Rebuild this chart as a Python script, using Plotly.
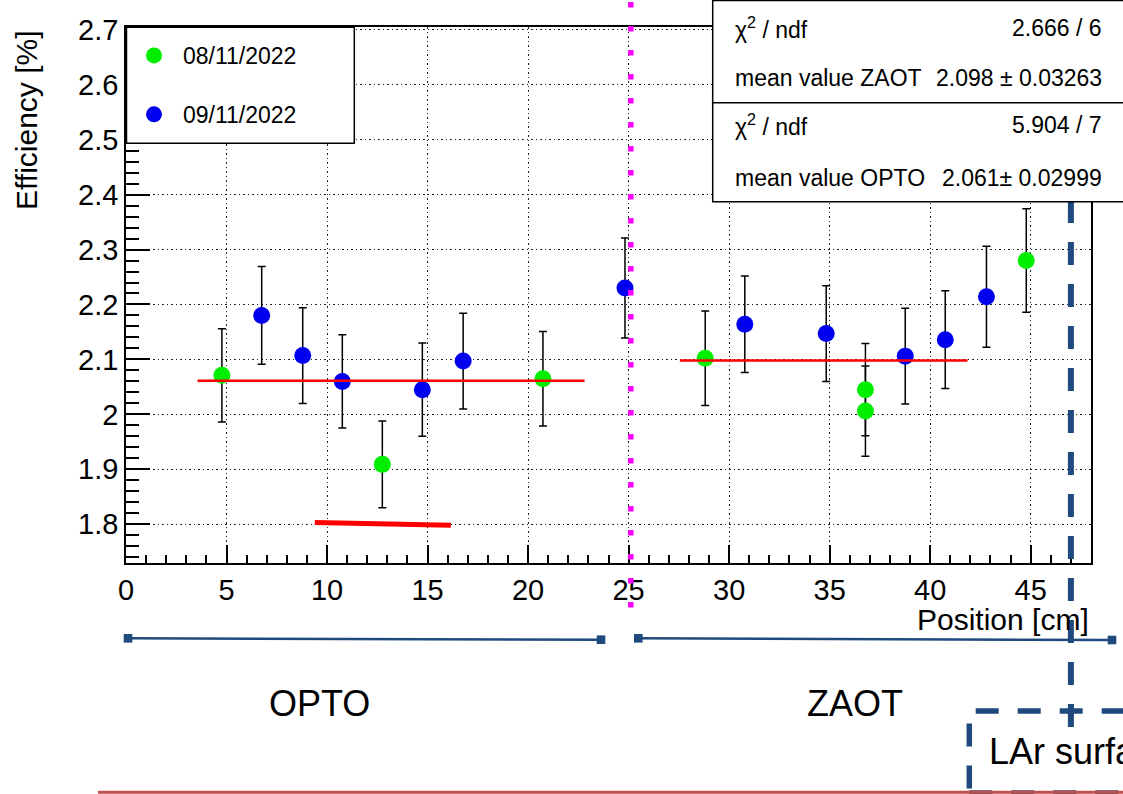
import plotly.graph_objects as go

# ---------------- data ----------------
green_label = "08/11/2022"
green_x = [4.77, 12.75, 20.74, 28.81, 36.78, 36.78, 44.78]
green_y = [2.071, 1.909, 2.065, 2.102, 2.045, 2.006, 2.280]
green_err = [0.085, 0.079, 0.086, 0.086, 0.084, 0.082, 0.094]

blue_label = "09/11/2022"
blue_x = [6.75, 8.79, 10.76, 14.74, 16.77, 24.82, 30.78, 34.83, 38.76, 40.75, 42.80]
blue_y = [2.180, 2.107, 2.060, 2.045, 2.097, 2.230, 2.164, 2.147, 2.106, 2.136, 2.214]
blue_err = [0.089, 0.087, 0.085, 0.085, 0.087, 0.091, 0.088, 0.087, 0.087, 0.089, 0.092]

opto_fit_x = [3.56, 22.81]
opto_mean = 2.061
zaot_fit_x = [27.55, 41.86]
zaot_mean = 2.098

strike_x = [9.39, 16.16]
strike_y = [1.803, 1.798]

separator_x = 25.11      # magenta dotted line
lar_x = 47.0             # LAr surface dashed line

x_range = [0, 48]
y_range = [1.7295, 2.705]
y_tickvals = [1.8, 1.9, 2.0, 2.1, 2.2, 2.3, 2.4, 2.5, 2.6, 2.7]
y_ticktext = ["1.8", "1.9", "2", "2.1", "2.2", "2.3", "2.4", "2.5", "2.6", "2.7"]
x_tickvals = [0, 5, 10, 15, 20, 25, 30, 35, 40, 45]
x_ticktext = ["0", "5", "10", "15", "20", "25", "30", "35", "40", "45"]

stat_rows = [
    ("χ<sup>2</sup> / ndf", "2.666 / 6"),
    ("mean value ZAOT", "2.098 ± 0.03263"),
    ("χ<sup>2</sup> / ndf", "5.904 / 7"),
    ("mean value OPTO", "2.061± 0.02999"),
]

# ---------------- geometry helpers (layout only) ----------------
W, H = 1123, 794
L, R, T, B = 126, 1091, 27, 563


def pxx(px):
    return (px - L) / (R - L)


def pxy(py):
    return (B - py) / (B - T)


def dx(x):
    return (x - x_range[0]) / (x_range[1] - x_range[0])


FONT = "Liberation Sans, Arial, Helvetica, sans-serif"
DARKBLUE = "#1f4a7d"

fig = go.Figure()

fig.add_trace(go.Scatter(
    x=green_x, y=green_y, mode="markers", name=green_label, legendgroup="g",
    marker=dict(color="#00ee00", size=17),
    error_y=dict(type="data", array=green_err, color="black", thickness=1.5, width=4),
))
fig.add_trace(go.Scatter(
    x=blue_x, y=blue_y, mode="markers", name=blue_label, legendgroup="b",
    marker=dict(color="#0000ee", size=17),
    error_y=dict(type="data", array=blue_err, color="black", thickness=1.5, width=4),
))
fig.add_trace(go.Scatter(
    x=opto_fit_x, y=[opto_mean, opto_mean], mode="lines", showlegend=False,
    line=dict(color="red", width=2.5),
))
fig.add_trace(go.Scatter(
    x=zaot_fit_x, y=[zaot_mean, zaot_mean], mode="lines", showlegend=False,
    line=dict(color="red", width=2.5),
))
fig.add_trace(go.Scatter(
    x=strike_x, y=strike_y, mode="lines", showlegend=False,
    line=dict(color="red", width=5),
))

shapes = []
# magenta dotted separator
shapes.append(dict(type="line", xref="paper", yref="paper",
                   x0=dx(separator_x), x1=dx(separator_x), y0=pxy(607.5), y1=pxy(2),
                   line=dict(color="#ff00ff", width=5.5, dash="5.5px,18.5px"), layer="above"))
# LAr surface dashed vertical line
shapes.append(dict(type="line", xref="paper", yref="paper",
                   x0=dx(lar_x), x1=dx(lar_x), y0=pxy(727), y1=pxy(198.5),
                   line=dict(color=DARKBLUE, width=6, dash="23px,19px"), layer="above"))
# legend box
shapes.append(dict(type="rect", xref="paper", yref="paper",
                   x0=pxx(126.5), x1=pxx(354.3), y0=pxy(143.3), y1=pxy(27.3),
                   line=dict(color="black", width=1.5), fillcolor="white", layer="above"))
# stat boxes
shapes.append(dict(type="rect", xref="paper", yref="paper",
                   x0=pxx(712.7), x1=pxx(1140), y0=pxy(102.7), y1=pxy(0.5),
                   line=dict(color="black", width=1.5), fillcolor="white", layer="above"))
shapes.append(dict(type="rect", xref="paper", yref="paper",
                   x0=pxx(712.7), x1=pxx(1140), y0=pxy(201.7), y1=pxy(102.7),
                   line=dict(color="black", width=1.5), fillcolor="white", layer="above"))
# region brackets
for (x0, y0, x1, y1) in [(128, 638.3, 601, 639.7), (638.3, 638.3, 1112, 640)]:
    shapes.append(dict(type="line", xref="paper", yref="paper",
                       x0=pxx(x0), x1=pxx(x1), y0=pxy(y0), y1=pxy(y1),
                       line=dict(color=DARKBLUE, width=2.5), layer="above"))
    for (cx, cy) in [(x0, y0), (x1, y1)]:
        shapes.append(dict(type="rect", xref="paper", yref="paper",
                           x0=pxx(cx - 4.3), x1=pxx(cx + 4.3), y0=pxy(cy + 4.3), y1=pxy(cy - 4.3),
                           line=dict(width=0), fillcolor=DARKBLUE, layer="above"))
# LAr surface dashed box
shapes.append(dict(type="rect", xref="paper", yref="paper",
                   x0=pxx(969.3), x1=pxx(1300), y0=pxy(793), y1=pxy(711),
                   line=dict(color=DARKBLUE, width=5.5, dash="23px,19px"), layer="above"))
# slide bottom red line
shapes.append(dict(type="line", xref="paper", yref="paper",
                   x0=pxx(98), x1=pxx(1130), y0=pxy(792.3), y1=pxy(792.3),
                   line=dict(color="#c0504d", width=3), layer="above"))

annotations = []
stat_y = [28, 78, 125, 178]
for (lbl, val), yy in zip(stat_rows, stat_y):
    annotations.append(dict(xref="paper", yref="paper", x=pxx(733), y=pxy(yy),
                            xanchor="left", yanchor="middle", text=lbl, showarrow=False,
                            font=dict(family=FONT, size=23, color="black")))
    annotations.append(dict(xref="paper", yref="paper", x=pxx(1104), y=pxy(yy),
                            xanchor="right", yanchor="middle", text=val, showarrow=False,
                            font=dict(family=FONT, size=23, color="black")))
annotations.append(dict(xref="paper", yref="paper", x=pxx(1091), y=pxy(619),
                        xanchor="right", yanchor="middle", text="Position [cm]", showarrow=False,
                        font=dict(family=FONT, size=30, color="black")))
annotations.append(dict(xref="paper", yref="paper", x=pxx(26), y=pxy(28),
                        xanchor="center", yanchor="top", text="Efficiency [%]", textangle=-90,
                        showarrow=False, font=dict(family=FONT, size=30, color="black")))
annotations.append(dict(xref="paper", yref="paper", x=pxx(319), y=pxy(703),
                        xanchor="center", yanchor="middle", text="OPTO", showarrow=False,
                        font=dict(family=FONT, size=36, color="black")))
annotations.append(dict(xref="paper", yref="paper", x=pxx(855), y=pxy(703),
                        xanchor="center", yanchor="middle", text="ZAOT", showarrow=False,
                        font=dict(family=FONT, size=36, color="black")))
annotations.append(dict(xref="paper", yref="paper", x=pxx(987), y=pxy(751),
                        xanchor="left", yanchor="middle", text="LAr surface", showarrow=False,
                        font=dict(family=FONT, size=36, color="black")))

fig.update_layout(
    width=W, height=H,
    margin=dict(l=L, r=W - R, t=T, b=H - B, pad=0),
    paper_bgcolor="white", plot_bgcolor="white",
    font=dict(family=FONT, color="black"),
    shapes=shapes, annotations=annotations,
    showlegend=True,
    legend=dict(x=pxx(125), y=pxy(34), xanchor="left", yanchor="top",
                bgcolor="rgba(0,0,0,0)", borderwidth=0,
                font=dict(family=FONT, size=23, color="black"),
                itemwidth=48, tracegroupgap=26),
)
fig.update_xaxes(
    range=x_range, tickmode="array", tickvals=x_tickvals, ticktext=x_ticktext,
    ticks="inside", ticklen=18, tickwidth=1.5, tickcolor="black",
    minor=dict(ticks="inside", ticklen=8, tickwidth=1.5, tickcolor="black",
               tickmode="linear", tick0=0, dtick=1),
    showline=True, linecolor="black", linewidth=1.5, mirror=True,
    showgrid=True, gridcolor="#222", gridwidth=1, griddash="1.5px,3px",
    zeroline=False, tickfont=dict(family=FONT, size=29, color="black"),
)
fig.update_yaxes(
    range=y_range, tickmode="array", tickvals=y_tickvals, ticktext=y_ticktext,
    ticks="inside", ticklen=24, tickwidth=1.5, tickcolor="black",
    minor=dict(ticks="inside", ticklen=13, tickwidth=1.5, tickcolor="black",
               tickmode="linear", tick0=0, dtick=0.02),
    showline=True, linecolor="black", linewidth=1.5, mirror=True,
    showgrid=True, gridcolor="#222", gridwidth=1, griddash="1.5px,3px",
    zeroline=False, tickfont=dict(family=FONT, size=29, color="black"),
)

fig.write_html("out.html", config={"displayModeBar": False},
               post_script="document.body.style.margin='0px';")
